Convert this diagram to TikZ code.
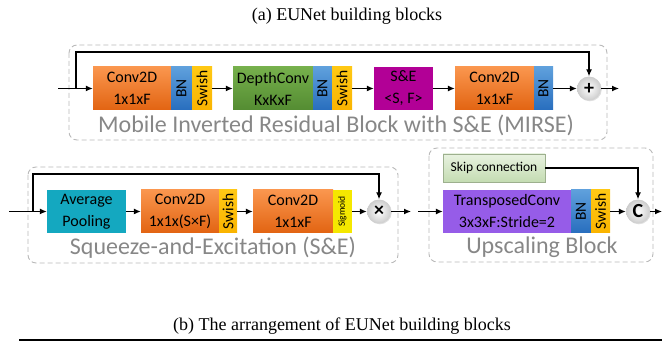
\documentclass[tikz,border=0pt]{standalone}
\usepackage{fontspec}
\usepackage{graphicx}
\setmainfont{Liberation Serif}
\newfontfamily\carl{Carlito}
\usetikzlibrary{arrows.meta,shadows}
\definecolor{convT}{RGB}{250,150,78}
\definecolor{convB}{RGB}{226,100,18}
\definecolor{bnT}{RGB}{95,160,220}
\definecolor{bnB}{RGB}{40,110,190}
\definecolor{swT}{RGB}{255,200,20}
\definecolor{swB}{RGB}{250,180,0}
\definecolor{dcT}{RGB}{118,176,76}
\definecolor{dcB}{RGB}{84,140,50}
\definecolor{seC}{RGB}{178,0,150}
\definecolor{apC}{RGB}{20,168,192}
\definecolor{sgC}{RGB}{245,232,0}
\definecolor{tcC}{RGB}{150,92,232}
\definecolor{skT}{RGB}{232,242,224}
\definecolor{skB}{RGB}{196,220,178}
\definecolor{dashC}{RGB}{185,185,185}
\definecolor{lblC}{RGB}{135,135,135}
\begin{document}
\begin{tikzpicture}[x=1pt,y=-1pt,
  blk/.style={inner sep=0pt, minimum height=43pt, align=center, draw=none,
    font=\carl\fontsize{16}{22}\selectfont},
  convbox/.style={blk, top color=convT, bottom color=convB},
  bnbox/.style={blk, top color=bnT, bottom color=bnB, font=\carl\fontsize{15.5}{15.5}\selectfont},
  swbox/.style={blk, top color=swT, bottom color=swB, font=\carl\fontsize{15.5}{15.5}\selectfont},
  dcbox/.style={blk, top color=dcT, bottom color=dcB},
  sebox/.style={blk, fill=seC},
  apbox/.style={blk, fill=apC},
  sgbox/.style={blk, fill=sgC, font=\carl\fontsize{9.5}{9.5}\selectfont},
  tcbox/.style={blk, fill=tcC},
  skbox/.style={inner sep=0pt, minimum width=102pt, minimum height=28pt, top color=skT, bottom color=skB,
    draw=skB!80!black, line width=0.3pt, font=\carl\fontsize{13.5}{13.5}\selectfont},
  opnode/.style={circle, minimum size=24pt, inner sep=0pt, shading=radial, inner color=white,
    outer color=black!20, drop shadow={opacity=0.25, shadow xshift=0.8pt, shadow yshift=-0.8pt},
    font=\carl\bfseries\fontsize{20}{20}\selectfont},
  grp/.style={draw=dashC, line width=0.9pt, rounded corners=8pt, dash pattern=on 5pt off 3pt},
  lbl/.style={text=lblC, font=\carl\fontsize{24}{24}\selectfont, inner sep=0pt},
  captxt/.style={font=\fontsize{18}{18}\selectfont, inner sep=0pt},
  conn/.style={line width=1.2pt, -{Latex[length=7pt,width=6pt]}}
]
\useasboundingbox (0,0) rectangle (662,342);

% captions
\node[captxt] (capa) at (347,16) {(a) EUNet building blocks};
\node[captxt] (capb) at (342,326) {(b) The arrangement of EUNet building blocks};
\coordinate (rl) at (19,340);
\coordinate (rr) at (662,340);
\draw[line width=1.6pt] (rl) -- (rr);

% group boxes
\draw[grp] (69,45) rectangle (607,140);
\draw[grp] (28,167) rectangle (398,263);
\draw[grp] (429,148) rectangle (653,262);
\node[lbl] (l1) at (336,125) {Mobile Inverted Residual Block with S\&E (MIRSE)};
\node[lbl] (l2) at (213,248) {Squeeze-and-Excitation (S\&E)};
\node[lbl] (l3) at (542,247) {Upscaling Block};

% row 1: MIRSE
\node[convbox, minimum width=78pt] (c1) at (132,88.5) {Conv2D\\1x1xF};
\node[bnbox, minimum width=21pt] (bn1) at (181.5,88.5) {\rotatebox{90}{BN}};
\node[swbox, minimum width=20pt] (sw1) at (202,88.5) {\rotatebox{90}{Swish}};
\node[dcbox, minimum width=80pt] (dc) at (273,88.5) {DepthConv\\KxKxF};
\node[bnbox, minimum width=19pt] (bn2) at (322.5,88.5) {\rotatebox{90}{BN}};
\node[swbox, minimum width=20pt] (sw2) at (342,88.5) {\rotatebox{90}{Swish}};
\node[sebox, minimum width=59pt] (se) at (403.5,88.5) {S\&E\\<S, F>};
\node[convbox, minimum width=79pt] (c2) at (494.5,88.5) {Conv2D\\1x1xF};
\node[bnbox, minimum width=19pt] (bn3) at (543.5,88.5) {\rotatebox{90}{BN}};
\node[opnode] (plus) at (589,88.5) {+};

\coordinate (in1) at (58,88.5);
\coordinate (s1) at (76,88.5);
\coordinate (t1) at (76,52);
\coordinate (out1) at (619,88.5);
\draw[conn] (in1) -- (c1.west);
\draw[conn] (s1) -- (t1) -| (plus.north);
\draw[conn] (sw1.east) -- (dc.west);
\draw[conn] (sw2.east) -- (se.west);
\draw[conn] (se.east) -- (c2.west);
\draw[conn] (bn3.east) -- (plus.west);
\draw[conn] (plus.east) -- (out1);

% row 2: S&E
\node[apbox, minimum width=79pt] (ap) at (86.5,211.5) {Average\\Pooling};
\node[convbox, minimum width=78pt] (c3) at (180,211.5) {Conv2D\\1x1x(S×F)};
\node[swbox, minimum width=18pt] (sw3) at (228,211.5) {\rotatebox{90}{Swish}};
\node[convbox, minimum width=80pt] (c4) at (293,211.5) {Conv2D\\1x1xF};
\node[sgbox, minimum width=19pt] (sg) at (342.5,211.5) {\rotatebox{90}{Sigmoid}};
\node[opnode] (times) at (379,211.5) {×};

\coordinate (in2) at (9,211.5);
\coordinate (s2) at (33,211.5);
\coordinate (t2) at (33,174);
\coordinate (out2) at (411,211.5);
\draw[conn] (in2) -- (ap.west);
\draw[conn] (s2) -- (t2) -| (times.north);
\draw[conn] (ap.east) -- (c3.west);
\draw[conn] (sw3.east) -- (c4.west);
\draw[conn] (sg.east) -- (times.west);
\draw[conn] (times.east) -- (out2);

% Upscaling block
\node[skbox] (sk) at (494,168) {Skip connection};
\node[tcbox, minimum width=128pt] (tc) at (507,211.5) {TransposedConv\\3x3xF:Stride=2};
\node[bnbox, minimum width=20pt] (bn4) at (581,211.5) {\rotatebox{90}{BN}};
\node[swbox, minimum width=19pt] (sw4) at (600.5,211.5) {\rotatebox{90}{Swish}};
\node[opnode] (cc) at (638,211.5) {C};

\coordinate (in3) at (418,211.5);
\coordinate (out3) at (662,211.5);
\draw[conn] (in3) -- (tc.west);
\draw[conn] (sk.east) -| (cc.north);
\draw[conn] (sw4.east) -- (cc.west);
\draw[conn] (cc.east) -- (out3);
\end{tikzpicture}
\end{document}
